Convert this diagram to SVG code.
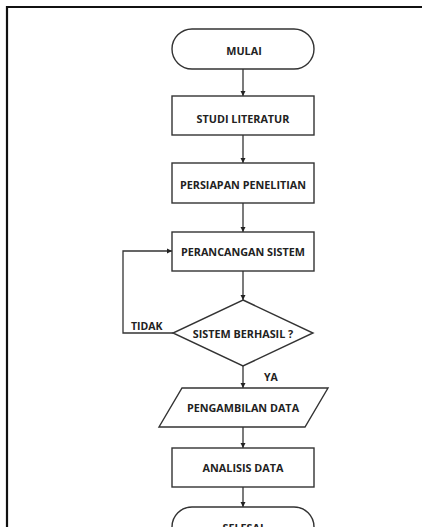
<svg xmlns="http://www.w3.org/2000/svg" width="422" height="527" viewBox="0 0 422 527">
<defs>
<marker id="ah" viewBox="0 0 6 6" refX="6" refY="3" markerWidth="4" markerHeight="4" orient="auto" markerUnits="strokeWidth">
<path d="M0,0 L6,3 L0,6 Z" fill="#222"/>
</marker>
</defs>
<style>
.shape{fill:#fff;stroke:#333;stroke-width:1.4}
.conn{fill:none;stroke:#333;stroke-width:1.3;marker-end:url(#ah)}
.lbl{font-family:"Open Sans","Liberation Sans",sans-serif;font-weight:bold;font-size:10.8px;fill:#222;text-anchor:middle;dominant-baseline:central}
.edge{font-family:"Open Sans","Liberation Sans",sans-serif;font-weight:bold;font-size:10.5px;fill:#222}
</style>
<rect width="422" height="527" fill="#fff"/>
<g id="frame">
<line x1="7" y1="7" x2="422" y2="7" stroke="#111" stroke-width="2"/>
<line x1="7" y1="6" x2="7" y2="527" stroke="#111" stroke-width="2.2"/>
</g>
<g id="connectors">
<line class="conn" x1="243" y1="69" x2="243" y2="96"/>
<line class="conn" x1="243" y1="135" x2="243" y2="163"/>
<line class="conn" x1="243" y1="203" x2="243" y2="232"/>
<line class="conn" x1="243" y1="271" x2="243" y2="300"/>
<polyline class="conn" points="173,333 123,333 123,251 172,251"/>
<line class="conn" x1="243" y1="366" x2="243" y2="388"/>
<line class="conn" x1="243" y1="427" x2="243" y2="448"/>
<line class="conn" x1="243" y1="487" x2="243" y2="507"/>
<text class="edge" x="131" y="330">TIDAK</text>
<text class="edge" x="264" y="381">YA</text>
</g>
<g id="mulai">
<rect class="shape" x="172" y="29" width="142" height="40" rx="20" ry="20"/>
<text class="lbl" x="244" y="50">MULAI</text>
</g>
<g id="studi">
<rect class="shape" x="172" y="96" width="142" height="39"/>
<text class="lbl" x="243" y="118">STUDI LITERATUR</text>
</g>
<g id="persiapan">
<rect class="shape" x="172" y="163" width="142" height="40"/>
<text class="lbl" x="243" y="184">PERSIAPAN PENELITIAN</text>
</g>
<g id="perancangan">
<rect class="shape" x="172" y="232" width="142" height="39"/>
<text class="lbl" x="243" y="251">PERANCANGAN SISTEM</text>
</g>
<g id="keputusan">
<polygon class="shape" points="243,300 313,333 243,366 173,333"/>
<text class="lbl" x="243" y="333">SISTEM BERHASIL ?</text>
</g>
<g id="pengambilan">
<polygon class="shape" points="182,388 328,388 305,427 159,427"/>
<text class="lbl" x="243" y="407">PENGAMBILAN DATA</text>
</g>
<g id="analisis">
<rect class="shape" x="172" y="448" width="142" height="39"/>
<text class="lbl" x="243" y="467">ANALISIS DATA</text>
</g>
<g id="selesai">
<rect class="shape" x="172" y="507" width="142" height="40" rx="20" ry="20"/>
<text class="lbl" x="243" y="527">SELESAI</text>
</g>
</svg>
